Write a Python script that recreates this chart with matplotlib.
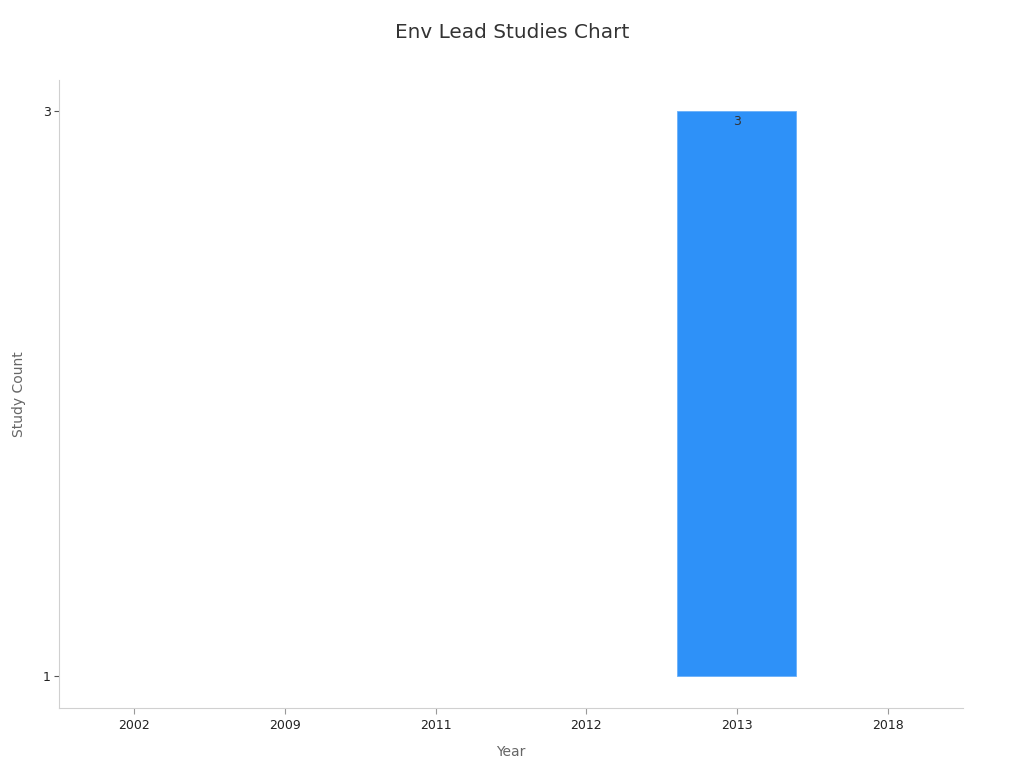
import matplotlib
matplotlib.use("Agg")
import matplotlib.pyplot as plt

years = ["2002", "2009", "2011", "2012", "2013", "2018"]
study_counts = [1, 1, 1, 1, 3, 1]
base = 1

fig = plt.figure(figsize=(10.24, 7.68), dpi=100)
ax = fig.add_axes([0.0576, 0.078, 0.8828, 0.8178])

x = list(range(len(years)))
heights = [c - base for c in study_counts]
# zero-height bars are left out so no edge line shows at the baseline
for xi, c, h in zip(x, study_counts, heights):
    if h > 0:
        ax.bar(xi, h, bottom=base, width=0.79, color="#2e91f8",
               edgecolor="#6ab0f9", linewidth=0.6)
        ax.text(xi, c - 0.015, str(c), ha="center", va="top", fontsize=9, color="#333333")

ax.set_xlim(-0.5, 5.5)
ax.set_ylim(0.887, 3.11)
ax.set_xticks(x)
ax.set_xticklabels(years)
ax.set_yticks([1, 3])
ax.tick_params(axis="x", colors="#999999", labelcolor="#222222", labelsize=9, length=4)
ax.tick_params(axis="y", colors="#555555", labelcolor="#222222", labelsize=9, length=3.5, pad=2.5)
for s in ["top", "right"]:
    ax.spines[s].set_visible(False)
for s in ["left", "bottom"]:
    ax.spines[s].set_color("#d0d0d0")

ax.set_xlabel("Year", fontsize=10, color="#666666", labelpad=10)
ax.set_ylabel("Study Count", fontsize=10, color="#666666", labelpad=12)
fig.suptitle("Env Lead Studies Chart", fontsize=14.4, color="#333333", y=0.97)

fig.savefig("out.png", dpi=100)
